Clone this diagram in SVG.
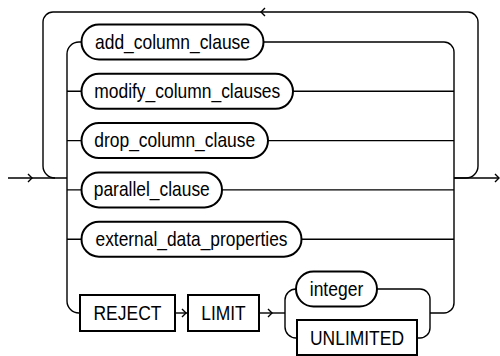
<svg xmlns="http://www.w3.org/2000/svg" width="500" height="356" viewBox="0 0 500 356">
<style>
.node{fill:#fff;stroke:#000;stroke-width:2}
.line{fill:none;stroke:#000;stroke-width:1.4}
.arr{fill:none;stroke:#000;stroke-width:1.4}
text{font-family:"Liberation Sans",Arial,sans-serif;font-size:21px;fill:#000;text-anchor:middle}
</style>
<rect width="500" height="356" fill="#fff"/>
<g id="connectors">
<!-- entry -->
<path class="line" d="M8,178 H67"/>
<path class="arr" d="M28,174 L32,178 L28,182"/>
<!-- outer loop -->
<path class="line" d="M454,178 H466 A12,12 0 0 0 478,166 V22 A10,10 0 0 0 468,12 H53 A10,10 0 0 0 43,22 V166 A12,12 0 0 0 55,178"/>
<path class="arr" d="M265,8 L261,12 L265,16"/>
<!-- exit -->
<path class="line" d="M454,178 H499"/>
<path class="arr" d="M495,174 L499,178 L495,182"/>
<!-- inner choice left -->
<path class="line" d="M81.5,42 H79 A12,12 0 0 0 67,54 V301 A12,12 0 0 0 79,313 H80"/>
<path class="line" d="M67,91.3 H81.5 M67,140.6 H81.5 M67,189.9 H81.5 M67,239.2 H81.5"/>
<!-- inner choice right -->
<path class="line" d="M263.5,42 H444 A10,10 0 0 1 454,52 V303 A10,10 0 0 1 444,313 H430"/>
<path class="line" d="M293,91.3 H454 M268,140.6 H454 M222,189.9 H454 M301.5,239.2 H454"/>
<!-- REJECT -> LIMIT -->
<path class="line" d="M175,313 H188"/>
<path class="arr" d="M182,309 L186,313 L182,317"/>
<!-- LIMIT -> choice -->
<path class="line" d="M259,313 H285"/>
<path class="arr" d="M268,309 L272,313 L268,317"/>
<!-- integer/UNLIMITED choice -->
<path class="line" d="M296,289 A11,11 0 0 0 285,300 V327 A11,11 0 0 0 296,338 H297"/>
<path class="line" d="M377,289 H420 A10,10 0 0 1 430,299 V328 A10,10 0 0 1 420,338 H417"/>
</g>
<g id="add_column_clause">
<rect class="node" x="81.5" y="24.5" width="182" height="35" rx="17.5"/>
<text x="172.5" y="48.5" textLength="155" lengthAdjust="spacingAndGlyphs">add_column_clause</text>
</g>
<g id="modify_column_clauses">
<rect class="node" x="81.5" y="73.8" width="211.5" height="35" rx="17.5"/>
<text x="187.25" y="97.8" textLength="186" lengthAdjust="spacingAndGlyphs">modify_column_clauses</text>
</g>
<g id="drop_column_clause">
<rect class="node" x="81.5" y="123.1" width="186.5" height="35" rx="17.5"/>
<text x="174.75" y="147.1" textLength="161" lengthAdjust="spacingAndGlyphs">drop_column_clause</text>
</g>
<g id="parallel_clause">
<rect class="node" x="81.5" y="172.4" width="140.5" height="35" rx="17.5"/>
<text x="151.75" y="196.4" textLength="116" lengthAdjust="spacingAndGlyphs">parallel_clause</text>
</g>
<g id="external_data_properties">
<rect class="node" x="81.5" y="221.7" width="220" height="35" rx="17.5"/>
<text x="191.5" y="245.7" textLength="192" lengthAdjust="spacingAndGlyphs">external_data_properties</text>
</g>
<g id="REJECT">
<rect class="node" x="80" y="295" width="95" height="36"/>
<text x="127.5" y="320" textLength="68" lengthAdjust="spacingAndGlyphs">REJECT</text>
</g>
<g id="LIMIT">
<rect class="node" x="188" y="295" width="71" height="36"/>
<text x="223.5" y="320" textLength="44.5" lengthAdjust="spacingAndGlyphs">LIMIT</text>
</g>
<g id="integer">
<rect class="node" x="296" y="271.5" width="81" height="35" rx="17.5"/>
<text x="336.5" y="295.5" textLength="53.5" lengthAdjust="spacingAndGlyphs">integer</text>
</g>
<g id="UNLIMITED">
<rect class="node" x="297" y="320" width="120" height="35"/>
<text x="357" y="344.5" textLength="94" lengthAdjust="spacingAndGlyphs">UNLIMITED</text>
</g>
</svg>
